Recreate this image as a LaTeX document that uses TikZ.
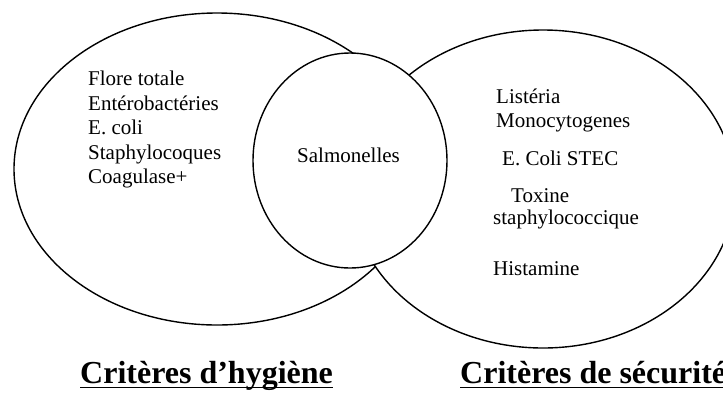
\documentclass[tikz,border=0pt]{standalone}
\usepackage{fontspec}
\setmainfont{Liberation Serif}
\usetikzlibrary{shapes.geometric}

\tikzset{
  crit/.style={draw, ellipse, fill=white, line width=1.4pt, inner sep=0pt},
  item/.style={anchor=base west, inner sep=0pt, font=\fontsize{21}{25}\selectfont},
  titre/.style={anchor=base west, inner sep=0pt, font=\fontsize{32}{36}\selectfont\bfseries},
}

\begin{document}
\begin{tikzpicture}[x=1pt, y=-1pt]
  \useasboundingbox (0,0) rectangle (723,392);
  \clip (0,0) rectangle (723,392);

  % Les trois ensembles
  \node[crit, minimum width=406pt, minimum height=312pt] (hyg) at (217,169) {};
  \node[crit, minimum width=384pt, minimum height=318pt] (secu) at (543,189) {};
  \node[crit, minimum width=194pt, minimum height=215pt] (salm) at (350,160.5) {};

  % Criteres d'hygiene
  \node[item] (flore) at (88,85) {Flore totale};
  \node[item] (entero) at (88,110) {Entérobactéries};
  \node[item] (ecoli) at (88,134) {E. coli};
  \node[item] (staph) at (88,159) {Staphylocoques};
  \node[item] (coag) at (88,183) {Coagulase+};

  % Intersection
  \node[item] (salmo) at (297,162) {Salmonelles};

  % Criteres de securite
  \node[item] (list) at (496,103) {Listéria};
  \node[item] (mono) at (496,127) {Monocytogenes};
  \node[item] (stec) at (502,165) {E. Coli STEC};
  \node[item] (tox) at (511,202) {Toxine};
  \node[item] (toxstaph) at (493,224) {staphylococcique};
  \node[item] (hist) at (493,275) {Histamine};

  % Titres soulignes
  \node[titre] (thyg) at (80,383) {Critères d’hygiène};
  \node[titre] (tsecu) at (460,383) {Critères de sécurité};
  \draw[line width=1.5pt] ([yshift=-4.5pt]thyg.base west) -- ([yshift=-4.5pt]thyg.base east);
  \draw[line width=1.5pt] ([yshift=-4.5pt]tsecu.base west) -- ([yshift=-4.5pt]tsecu.base east);
\end{tikzpicture}
\end{document}
